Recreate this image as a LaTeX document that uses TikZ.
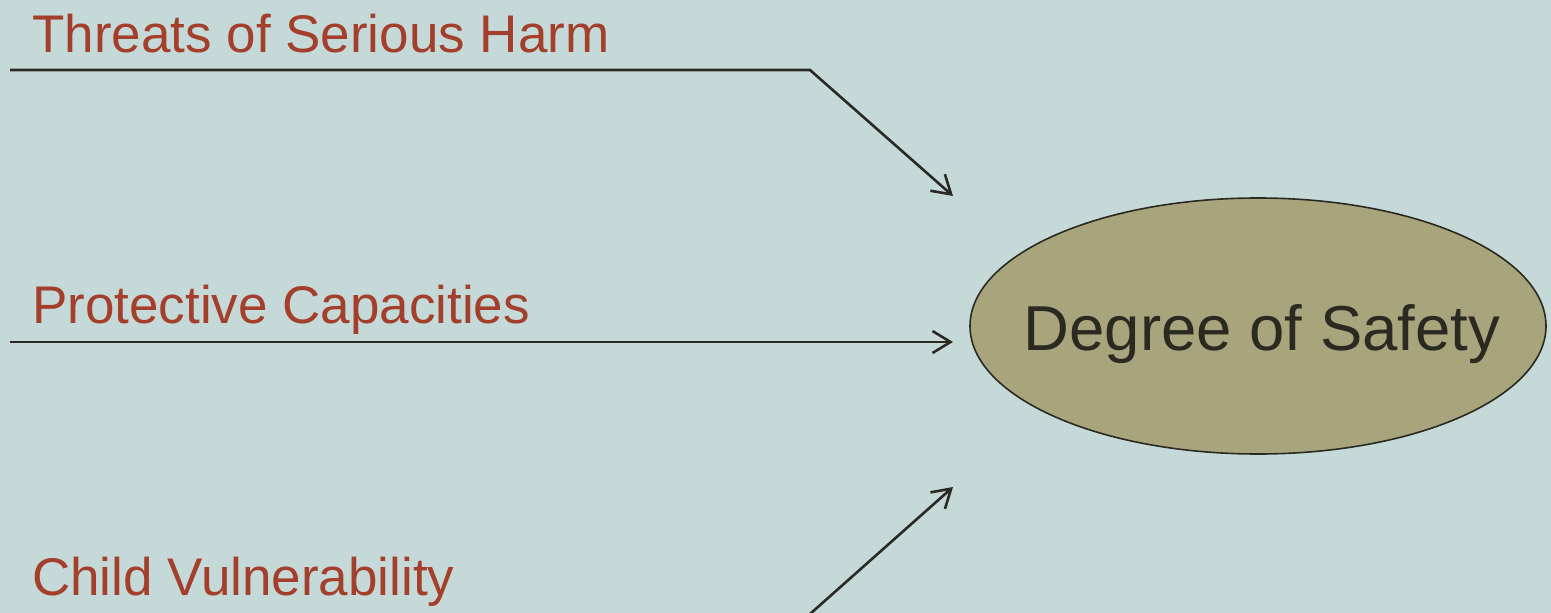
\documentclass[tikz,border=0pt]{standalone}
\usepackage{fontspec}
\setmainfont{Liberation Sans}
\usetikzlibrary{shapes.geometric,arrows.meta}
\definecolor{slide}{HTML}{C4D9D8}
\definecolor{rust}{HTML}{A33F2B}
\definecolor{olive}{HTML}{A8A57C}
\definecolor{ink}{HTML}{2B2A22}
\begin{document}
\begin{tikzpicture}[x=1pt, y=-1pt,
  factor/.style = {anchor=base west, inner sep=0pt, text=rust,
    font=\fontsize{53}{60}\selectfont},
  outcome/.style = {shape=ellipse, draw=ink, line width=1.6pt,
    fill=olive, inner sep=0pt, minimum width=576pt, minimum height=256pt},
  caption/.style = {anchor=base, inner sep=0pt, text=ink,
    font=\fontsize{63.5}{70}\selectfont},
  feed/.style = {draw=ink, line width=2.6pt,
    -{Straight Barb[length=18pt,width=22pt,line width=2.6pt]}}]
  \fill[slide] (0,0) rectangle (1551,613);
  \useasboundingbox (0,0) rectangle (1551,613);
  \node[factor] (threats) at (32,52) {Threats of Serious Harm};
  \node[factor] (capacities) at (32,323) {Protective Capacities};
  \node[factor] (vulnerability) at (32,595) {Child Vulnerability};
  \node[outcome] (safety) at (1258,326) {};
  \node[caption] (safetytext) at (1262,350) {Degree of Safety};
  \coordinate (t0) at (10,70);
  \coordinate (t1) at (810,70);
  \coordinate (p0) at (10,342);
  \coordinate (v1) at (810,614);
  \draw[feed] (t0) -- (t1) -- (953,196);
  \draw[feed] (p0) -- (953,342);
  \draw[feed] (v1) -- (953,487);
\end{tikzpicture}
\end{document}
